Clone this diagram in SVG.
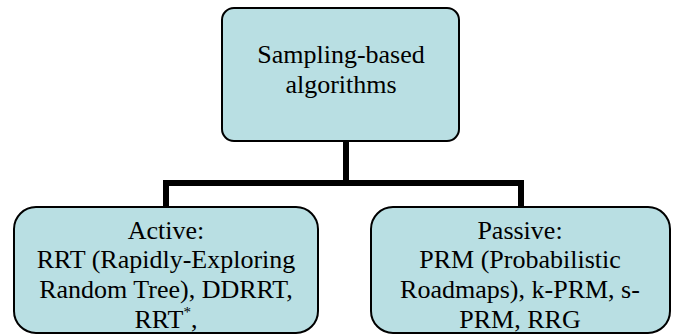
<svg xmlns="http://www.w3.org/2000/svg" width="678" height="336" viewBox="0 0 678 336">
<defs>
<style>
rect.box{fill:#B9DFE3;stroke:#000;stroke-width:2}
path.c{fill:none;stroke:#000;stroke-width:6}
text{font-family:"Liberation Serif","Times New Roman",serif;font-size:26px;text-anchor:middle;fill:#000}
</style>
</defs>
<rect width="678" height="336" fill="#fff"/>
<g id="connectors">
<path class="c" d="M346 141 V183 M166 207 V183 H521 V207"/>
</g>
<g id="root">
<rect class="box" x="222" y="8" width="237" height="133" rx="12" stroke-width="3"/>
<text x="341" y="63" font-family="Times New Roman">Sampling-based</text>
<text x="341" y="93" font-family="Times New Roman">algorithms</text>
</g>
<g id="active">
<rect class="box" x="14" y="207" width="304" height="126" rx="22"/>
<text x="166" y="239" font-family="Times New Roman">Active:</text>
<text x="166" y="268" font-family="Times New Roman">RRT (Rapidly-Exploring</text>
<text x="166" y="298" font-family="Times New Roman">Random Tree), DDRRT,</text>
<text x="166" y="328" font-family="Times New Roman">RRT<tspan font-size="15" dy="-11">*</tspan><tspan dy="11">,</tspan></text>
</g>
<g id="passive">
<rect class="box" x="371" y="207" width="299" height="126" rx="22"/>
<text x="520" y="239" font-family="Times New Roman">Passive:</text>
<text x="520" y="268" font-family="Times New Roman">PRM (Probabilistic</text>
<text x="520" y="298" font-family="Times New Roman">Roadmaps), k-PRM, s-</text>
<text x="520" y="328" font-family="Times New Roman">PRM, RRG</text>
</g>
</svg>
